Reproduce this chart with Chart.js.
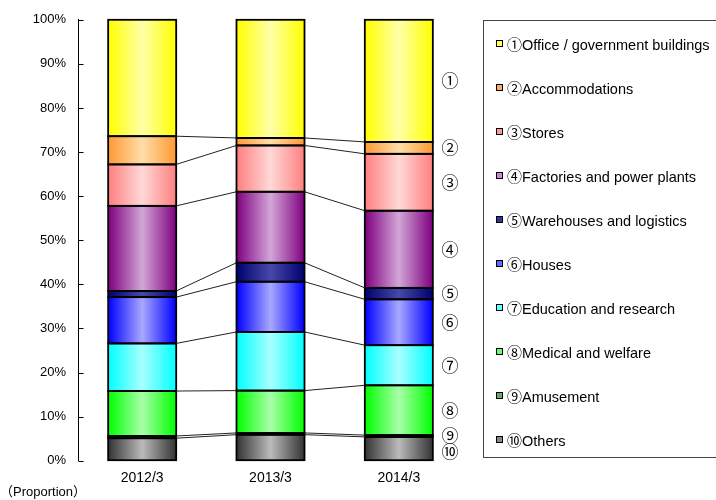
<!DOCTYPE html>
<html>
<head>
<meta charset="utf-8">
<script src="https://cdn.jsdelivr.net/npm/chart.js@4/dist/chart.umd.min.js"></script>
<style>
  html, body { margin: 0; padding: 0; background: #fff; }
  #wrap { position: relative; width: 716px; height: 500px; overflow: hidden;
          font-family: "Liberation Sans", Arial, sans-serif; }
  #c { position: absolute; left: 0; top: 0; }
  #legend { position: absolute; left: 483px; top: 20px; width: 250px; height: 438px;
            border: 1px solid #444; box-sizing: border-box; }
  .item { position: absolute; left: 0; height: 20px; line-height: 20px; font-size: 14.5px;
          color: #000; white-space: nowrap; }
  .sw { position: absolute; left: 12px; top: 6px; width: 5px; height: 5px; border: 1.5px solid #000; }
  .lt { position: absolute; left: 23px; top: 0; }
  .cn { font-family: "Noto Sans CJK JP", sans-serif; font-size: 15px; }
  #prop { position: absolute; left: 0px; top: 481px; font-size: 13px; color: #000; white-space: nowrap; }
  #prop .cn { font-size: 13px; }
</style>
</head>
<body>
<div id="wrap">
  <canvas id="c" width="716" height="500"></canvas>
  <div id="legend"></div>
  <div id="prop"><span class="cn">（</span>Proportion<span class="cn">）</span></div>
</div>
<script>
// ---- data (percent shares) ----
const categories = ['2012/3', '2013/3', '2014/3'];
const circled = ['①', '②', '③', '④', '⑤', '⑥', '⑦', '⑧', '⑨', '⑩'];
const seriesNames = ['Office / government buildings', 'Accommodations', 'Stores',
  'Factories and power plants', 'Warehouses and logistics', 'Houses',
  'Education and research', 'Medical and welfare', 'Amusement', 'Others'];
const office        = [26.4, 26.8, 27.7];
const accommodations= [6.4, 1.7, 2.7];
const stores        = [9.4, 10.5, 12.9];
const factories     = [19.3, 16.1, 17.5];
const warehouses    = [1.4, 4.3, 2.6];
const houses        = [10.5, 11.4, 10.4];
const education     = [10.8, 13.3, 9.1];
const medical       = [10.2, 9.6, 11.3];
const amusement     = [0.5, 0.4, 0.4];
const others        = [5.1, 5.9, 5.4];
const yTicks = [0, 10, 20, 30, 40, 50, 60, 70, 80, 90, 100];

// ---- styles: [edge, centre, legend swatch] ----
const palette = [
  ['#FFFF00', '#FFFFA8', '#FFFF66'],
  ['#FF9933', '#FFDDA8', '#FFAA66'],
  ['#FF7F7F', '#FFD8D8', '#FF9999'],
  ['#7F0080', '#D2A6D6', '#CC88CC'],
  ['#000070', '#4848A8', '#333399'],
  ['#0000FF', '#A8A8FF', '#6666FF'],
  ['#00FFFF', '#A8FFFF', '#66FFFF'],
  ['#00FF00', '#A8FFA8', '#66FF66'],
  ['#007F00', '#80C080', '#66AA66'],
  ['#333333', '#BBBBBB', '#888888']
];
const seriesValues = [office, accommodations, stores, factories, warehouses,
  houses, education, medical, amusement, others];
const BAR_PCT = 0.53;

function grad(ctx, cols) {
  const chart = ctx.chart;
  const xs = chart.scales.x;
  if (!xs || !chart.chartArea) return cols[2];
  const x = xs.getPixelForValue(ctx.dataIndex);
  const w = (xs.width / categories.length) * BAR_PCT;
  const g = chart.ctx.createLinearGradient(x - w / 2, 0, x + w / 2, 0);
  g.addColorStop(0, cols[0]);
  g.addColorStop(0.5, cols[1]);
  g.addColorStop(1, cols[0]);
  return g;
}

// datasets from bottom (Others) to top (Office)
const datasets = [];
for (let i = seriesValues.length - 1; i >= 0; i--) {
  const cols = palette[i];
  datasets.push({
    label: circled[i] + seriesNames[i],
    data: seriesValues[i],
    backgroundColor: (ctx) => grad(ctx, cols),
    borderWidth: 0,
    seriesIndex: i
  });
}

const barOutlines = {
  id: 'barOutlines',
  afterDatasetsDraw(chart) {
    const ctx = chart.ctx;
    ctx.save();
    ctx.strokeStyle = '#000';
    ctx.lineWidth = 1.8;
    chart.data.datasets.forEach((ds, d) => {
      chart.getDatasetMeta(d).data.forEach(el => {
        ctx.strokeRect(el.x - el.width / 2, el.y, el.width, el.base - el.y);
      });
    });
    ctx.restore();
  }
};

const seriesLines = {
  id: 'seriesLines',
  afterDatasetsDraw(chart) {
    const ctx = chart.ctx;
    ctx.save();
    ctx.strokeStyle = '#222';
    ctx.lineWidth = 1;
    const n = chart.data.datasets.length;
    for (let d = 0; d < n - 1; d++) {
      const els = chart.getDatasetMeta(d).data;
      for (let j = 0; j < els.length - 1; j++) {
        const a = els[j], b = els[j + 1];
        ctx.beginPath();
        ctx.moveTo(a.x + a.width / 2, a.y);
        ctx.lineTo(b.x - b.width / 2, b.y);
        ctx.stroke();
      }
    }
    ctx.restore();
  }
};

const circleLabels = {
  id: 'circleLabels',
  afterDatasetsDraw(chart) {
    const ctx = chart.ctx;
    ctx.save();
    ctx.font = '17px "Noto Sans CJK JP", sans-serif';
    ctx.fillStyle = '#000';
    ctx.textAlign = 'center';
    ctx.textBaseline = 'middle';
    const last = categories.length - 1;
    const n = chart.data.datasets.length;
    let prev = -Infinity;
    for (let d = n - 1; d >= 0; d--) {
      const el = chart.getDatasetMeta(d).data[last];
      let y = (el.y + el.base) / 2;
      if (y < prev + 16) y = prev + 16;
      prev = y;
      ctx.fillText(circled[chart.data.datasets[d].seriesIndex], 450, y);
    }
    ctx.restore();
  }
};

const inwardTicks = {
  id: 'inwardTicks',
  afterDraw(chart) {
    const ys = chart.scales.y;
    const ctx = chart.ctx;
    ctx.save();
    ctx.strokeStyle = '#000';
    ctx.lineWidth = 1;
    const x0 = Math.round(chart.chartArea.left) + 0.5;
    yTicks.forEach(v => {
      const y = Math.round(ys.getPixelForValue(v)) + 0.5;
      ctx.beginPath();
      ctx.moveTo(x0, y);
      ctx.lineTo(x0 + 5, y);
      ctx.stroke();
    });
    ctx.restore();
  }
};

new Chart(document.getElementById('c'), {
  type: 'bar',
  data: { labels: categories, datasets: datasets },
  options: {
    responsive: false,
    animation: false,
    layout: { padding: { left: 0, right: 253, top: 19.5, bottom: 0 } },
    datasets: { bar: { categoryPercentage: 1, barPercentage: BAR_PCT } },
    plugins: { legend: { display: false }, tooltip: { enabled: false } },
    scales: {
      x: {
        stacked: true,
        grid: { display: false, drawTicks: false },
        border: { display: false },
        ticks: { color: '#000', font: { family: '"Liberation Sans", Arial, sans-serif', size: 14 }, padding: 9 },
        afterFit(s) { s.height = 39.3; }
      },
      y: {
        stacked: true,
        min: 0, max: 100,
        afterBuildTicks(s) { s.ticks = yTicks.map(v => ({ value: v })); },
        grid: { drawOnChartArea: false, drawTicks: false },
        border: { display: true, color: '#000', width: 1 },
        ticks: { color: '#000', font: { family: '"Liberation Sans", Arial, sans-serif', size: 13 },
                 padding: 12, callback: v => v + '%' },
        afterFit(s) { s.width = 78; }
      }
    }
  },
  plugins: [barOutlines, seriesLines, circleLabels, inwardTicks]
});

// HTML legend built from the same arrays
const lg = document.getElementById('legend');
seriesNames.forEach((name, i) => {
  const it = document.createElement('div');
  it.className = 'item';
  it.style.top = (44 * i + 12.5) + 'px';
  it.innerHTML = '<span class="sw" style="background:' + palette[i][2] + '"></span>' +
                 '<span class="lt"><span class="cn">' + circled[i] + '</span>' + name + '</span>';
  lg.appendChild(it);
});
</script>
</body>
</html>
